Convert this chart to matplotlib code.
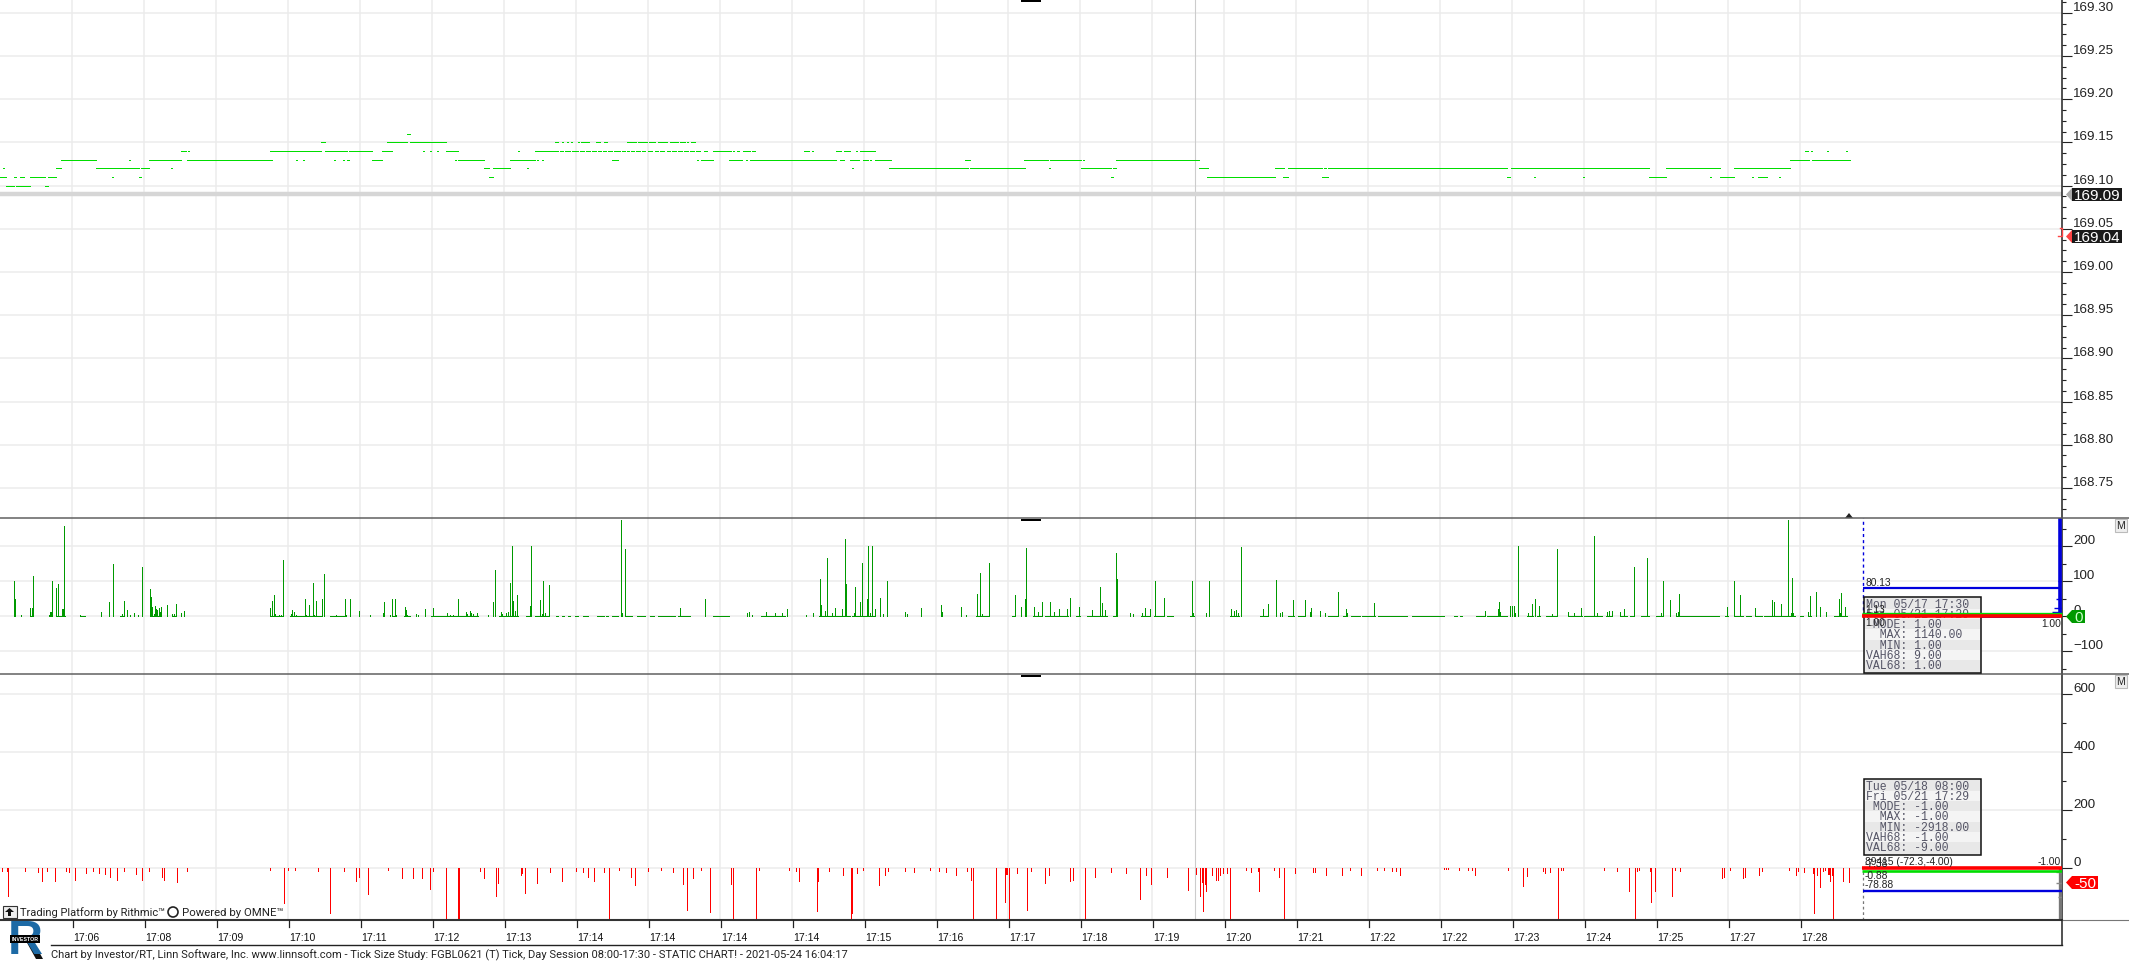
import matplotlib
matplotlib.use("Agg")
import matplotlib.pyplot as plt
from matplotlib.patches import Rectangle, Polygon, Circle

W, H = 2129, 962

# ---- data: x is bar position along the tick chart ----
tick_bars = [73 + 72 * k for k in range(25)]
tick_labels = ["17:06", "17:08", "17:09", "17:10", "17:11", "17:12", "17:13", "17:14", "17:14", "17:14",
               "17:14", "17:15", "17:16", "17:17", "17:18", "17:19", "17:20", "17:21", "17:22", "17:22",
               "17:23", "17:24", "17:25", "17:27", "17:28"]
price_ticks = [169.30, 169.25, 169.20, 169.15, 169.10, 169.05, 169.00, 168.95, 168.90, 168.85, 168.80, 168.75]

p16 = [(407, 410)]
p15 = [(321, 325), (387, 388.5), (390, 392), (392, 407), (410, 424), (424, 431), (431, 437), (437, 446),
       (555, 556), (557, 558), (562, 563), (567, 568), (571, 572), (578, 579), (581, 582), (583, 584), (585, 586),
       (587, 589), (596, 600), (604, 607), (627, 629), (630, 636), (638, 645), (646, 647), (649, 655), (658, 665),
       (666, 667), (670, 678), (680, 685), (687, 688), (691, 695)]
p14 = [(181, 186), (188, 189), (270, 271), (271.5, 296), (297, 304), (304, 321), (325, 334), (335, 343), (344, 347),
       (349, 372), (382, 387), (388, 390), (391, 392), (423, 424), (430, 431), (437, 438), (446, 455), (456, 458),
       (518, 519), (535, 537), (538, 542), (543, 555), (556, 558), (560, 563), (565, 567), (568, 570), (572, 574),
       (575, 578), (580, 584), (586, 590), (592, 596), (598, 601), (603, 606), (608, 612), (614, 620), (622, 625),
       (627, 629), (631, 634), (636, 640), (642, 645), (648, 652), (655, 658), (660, 664), (667, 670), (672, 676),
       (678, 682), (684, 688), (690, 694), (696, 700), (704, 707), (712.5, 729), (730, 731), (732.5, 733.5),
       (737, 739), (742.5, 746), (747, 750), (752, 755.4), (804, 806.3), (807, 809), (812, 813), (836, 841),
       (844, 850), (856, 857), (860, 874.5), (1805, 1808), (1811, 1812), (1827, 1828), (1846, 1847)]
p13 = [(61, 96), (129, 130), (149, 171.5), (172, 181), (187, 188), (189, 270), (271, 272), (296, 297), (303, 304),
       (334, 335), (343, 344), (347, 349), (372, 382), (455, 456), (458, 484), (510, 518), (519, 527), (528, 535),
       (537, 538), (542, 543), (612, 614), (615, 618), (697, 698), (701, 709), (710, 713), (729, 731), (732, 737),
       (738, 742), (745.5, 747), (750, 752.7), (753.6, 803.6), (804.5, 811.6), (813, 836), (840, 844), (850, 853),
       (854, 859.4), (863, 868), (869.6, 871), (875, 889), (890, 891), (965, 967), (968, 970), (1023.7, 1048),
       (1050, 1081), (1083, 1084), (1116, 1198.7), (1790, 1807), (1808, 1809), (1812, 1827), (1828, 1850)]
p12 = [(3, 4), (56, 61), (96, 112.5), (113, 129.5), (130, 139), (141, 149), (171, 172), (484, 489), (493, 510),
       (527, 528), (852, 853), (889, 890), (891, 965), (966, 968), (970, 1023), (1024, 1025), (1049, 1050), (1081, 1083),
       (1084, 1111), (1113, 1116), (1199, 1208), (1275, 1284), (1288, 1322), (1324, 1326), (1328, 1507), (1510.6, 1649),
       (1666, 1720), (1734, 1754), (1755, 1760), (1761, 1766), (1767, 1790)]
p11 = [(0, 3), (4, 6), (14, 16), (20, 21), (22, 24), (30, 45), (48, 56), (112, 113), (139, 141), (489, 493),
       (1111, 1113), (1207, 1208), (1209, 1275), (1283, 1284), (1285, 1288), (1322, 1324), (1325, 1328), (1507, 1510),
       (1534, 1535), (1583, 1584), (1649, 1666), (1710, 1711), (1720, 1734), (1752, 1753), (1758, 1762), (1763, 1767),
       (1779, 1780)]
p10 = [(6, 14), (16, 21), (22, 30), (45, 48)]
last_trade = 169.09
last_price = 169.04

vol_x = [3.6, 14.3, 15.2, 20.5, 22.3, 30.4, 32.1, 33, 48.7, 50.4, 51.3, 52.2, 56.3, 58, 62, 63.4, 64.3, 80.4, 82.6, 89.3,
         91.5, 94.6, 101.3, 107.6, 109.4, 113.4, 119.6, 122.3, 123.7, 127.2, 129.5, 133.9, 137.5, 141.5, 150.4, 151.3,
         152.2, 153.6, 154.5, 155.8, 157.1, 158.5, 159.8, 160.7, 167.4, 172.3, 174.1, 176.3, 181.2, 184.4, 188.4,
         270, 271.9, 273.7, 275, 278.6, 281.3, 282.6, 290.6, 292.4, 293.8, 296, 299, 304.5, 306.3, 309.4, 312.5, 313.8,
         315.6, 322.3, 323.7, 335.7, 344.6, 346, 350.4, 359.4, 370, 382.6, 383.5, 389.7, 392.4, 394.6, 396, 404.9, 405.8,
         407.1, 415.6, 418.3, 424.6, 432.6, 436.6, 447.3, 450.4, 453, 457.6, 462, 465.6, 467.4, 469.6, 471.4, 473.2, 476.6,
         487.5, 493.3, 494.6, 500.9, 502.2, 505.8, 508, 510.3, 511.6, 513, 514.7, 517.4, 525.9, 529.9, 531.3, 535.7, 540.2,
         541.5, 543.3, 544.6, 548.7, 620.5, 622.3, 625.4, 679.5,
         704.5, 747, 749, 752, 765.6, 775.4, 782, 786.6, 806, 812.5, 819.6, 821.4, 824.6, 827.2, 831.7, 835.3, 841.5, 844.6,
         845.5, 854, 855.4, 860.3, 861.6, 866.5, 868.3, 870, 872.3, 874.6, 880.4, 882.6, 886.6, 905.4, 906.7, 921.4, 940.6,
         942.4, 960.7, 965.6, 977.2, 979.5, 980.4, 982, 989.3, 1015.2, 1021.4, 1025.4, 1026.3, 1034, 1038, 1041.5, 1050.4,
         1054, 1059.4, 1067, 1070, 1078.6, 1091.5, 1100.4, 1102.2, 1105, 1115.6, 1116.5, 1130, 1132.6, 1142, 1145, 1150.4,
         1154.5, 1164.3, 1191.5, 1192.9, 1206.3, 1208.5, 1231.3, 1234.4, 1235.7, 1238.4, 1240.6, 1262.5, 1268.3, 1275.9,
         1280.3, 1281.7, 1293.3, 1305.4, 1309.8, 1311.2, 1319.6, 1325, 1338.4, 1346.4, 1347.3, 1373.7,
         1484.7, 1498.3, 1499.3, 1500.3, 1510.3, 1512.3, 1514.3, 1515.3, 1518.3, 1528.3, 1532.3, 1535.3, 1539.3, 1552.3,
         1557.3, 1568.3, 1574.3, 1581.3, 1594.3, 1597.3, 1607.3, 1609, 1611.7, 1620.3, 1624.3, 1634.3, 1647.3, 1661.3,
         1663.3, 1670.3, 1676.3, 1677.7, 1679.3, 1727.3, 1734.3, 1740.3, 1755.3, 1772.3, 1774.3, 1781.3, 1788.3, 1790.7,
         1792.3, 1793.3, 1808.3, 1810.3, 1816.3, 1820.3, 1826.3, 1839.3, 1840.3, 1841.3, 1845.3]
vol_y = [2, 100, 50, 4, 2, 24, 24, 115, 4, 11, 13, 100, 81, 92, 21, 21, 258, 4, 2, 2,
         2, 2, 12, 2, 41, 150, 2, 7, 44, 18, 4, 10, 4, 141, 78, 55,
         27, 7, 30, 21, 19, 24, 11, 27, 32, 7, 7, 35, 10, 15, 2,
         24, 44, 61, 7, 3, 4, 161, 7, 18, 12, 4, 2, 50, 4, 32, 95, 4,
         44, 50, 121, 4, 50, 4, 50, 15, 3, 10, 41, 3, 50, 50, 5, 27, 18,
         4, 6, 4, 21, 24, 2, 10, 5, 3, 50, 2, 11, 6, 15, 9, 6, 9,
         4, 41, 132, 12, 7, 10, 11, 95, 201, 44, 15, 61, 2, 30, 201, 2, 47,
         7, 100, 9, 89, 275, 10, 192, 24,
         50, 10, 12, 4, 12, 10, 10, 21, 4, 10, 107, 32, 15, 167, 10, 24, 21, 221,
         92, 10, 84, 41, 152, 50, 201, 10, 201, 21, 52, 7, 100, 12, 7, 24, 32,
         12, 27, 3, 64, 124, 81, 7, 152, 61, 27, 50, 195, 27, 12, 41, 41,
         12, 21, 21, 52, 27, 18, 84, 38, 18, 181, 107, 10, 7, 10, 24, 21,
         100, 52, 100, 10, 10, 100, 21, 15, 18, 10, 198, 21, 35, 104,
         10, 12, 47, 47, 12, 24, 15, 10, 70, 21, 10, 38,
         15, 21, 41, 12, 30, 30, 30, 10, 201, 10, 35, 50, 30, 7,
         192, 12, 10, 24, 229, 10, 12, 15, 15, 12, 21, 141, 167, 10,
         100, 47, 10, 12, 64, 27, 100, 61, 24, 47, 41, 35, 275, 10,
         110, 10, 12, 58, 70, 27, 12, 50, 10, 67, 27]
vol_floor = [(30, 33), (56, 65), (80, 85), (120, 123), (150, 161), (172, 176), (270, 283), (290, 321), (330, 344),
             (393, 396), (404, 410), (431, 478), (499, 518), (526, 531), (535, 549), (556, 558), (562, 564), (568, 570),
             (575, 578), (583, 588), (597, 604), (606, 608), (612, 618), (625, 632), (637, 645), (650, 654), (658, 675),
             (678, 690), (713, 729), (761, 785), (819, 850), (852, 874), (976, 989), (1012, 1015), (1033, 1041),
             (1045, 1068), (1076, 1080), (1087, 1107), (1113, 1116), (1141, 1149), (1154, 1164), (1167, 1173), (1190, 1194),
             (1230, 1239), (1260, 1268), (1288, 1294), (1298, 1305), (1328, 1337), (1343, 1347), (1351, 1360), (1362, 1375),
             (1378, 1400), (1401, 1407), (1412, 1444), (1454, 1457), (1460, 1462), (1476, 1485), (1487, 1507), (1527, 1533),
             (1537, 1540), (1546, 1557), (1568, 1582), (1584, 1602), (1606, 1612), (1620, 1627), (1630, 1634), (1641, 1649),
             (1656, 1663), (1676, 1719), (1725, 1728), (1734, 1743), (1746, 1751), (1755, 1762), (1764, 1788), (1789, 1795),
             (1800, 1803), (1808, 1811), (1834, 1847)]

neg_x = [2, 6.7, 7.6, 24.6, 38, 42.4, 47, 55, 65.6, 69, 74.6, 86, 93, 99, 105, 110, 117, 124, 136, 141.5, 148.7, 162, 164,
         177, 186.6, 269.6, 283.5, 288, 294.6, 318, 329.5, 343.7, 356, 358.5, 368, 388.4, 402, 413, 422, 429.5, 433, 446.4,
         458, 459, 480, 484, 495.5, 497.8, 521, 522, 524.6, 537, 550, 561.6, 576, 582.6, 588, 593.8, 604, 608.5, 619, 631,
         635, 648, 660.7, 672.8, 683, 686.6, 693,
         701, 710, 731, 732.6, 756, 759, 789, 796, 799, 817.4, 818, 828.6, 843, 851, 852, 857, 863, 878.6, 885, 888, 904.5,
         914, 930, 939, 946.4, 956, 967, 971.4, 972.8, 996, 1005.4, 1006, 1007, 1009, 1017, 1027, 1031, 1044.6, 1049, 1070,
         1073, 1084.8, 1094.6, 1110.7, 1126, 1139.7, 1146.4, 1151.3, 1166.5, 1188.4, 1196, 1200.4, 1201.8, 1203, 1204.5,
         1205.8, 1212, 1215.6, 1218.3, 1220, 1223, 1226.8, 1229.5, 1245.5, 1251.3, 1258, 1259.4, 1273.7, 1278.6, 1283.5,
         1294.7, 1312.5, 1315, 1326, 1342, 1349.5, 1360.7, 1377.2, 1384, 1392, 1396.4,
         1400.3, 1444, 1446, 1448, 1459.3, 1468.3, 1472.3, 1475.3, 1508.3, 1523.3, 1526.7, 1543.3, 1545.3, 1550.3, 1558.3,
         1560.7, 1563.3, 1604.3, 1617.3, 1629.3, 1635.3, 1637.3, 1639, 1650, 1650.7, 1655.3, 1672.3, 1675, 1680.3,
         1721.7, 1724, 1730, 1743.3, 1745.3, 1759.3, 1761.7, 1789.3, 1796.3, 1798.3, 1804.3, 1813.3, 1814.3, 1817.3, 1819.7,
         1823.3, 1825.3, 1828.3, 1829.3, 1830.3, 1832.3, 1833.3, 1842.7, 1849.3]
neg_y = [-9, -9, -95, -8, -12, -45, -8, -45, -10, -12, -40, -16, -10, -16, -20, -30, -40, -8, -20, -42, -10, -30, -40,
         -46, -8, -6, -120, -5, -6, -8, -155, -8, -45, -30, -88, -6, -35, -35, -35, -72, -8, -178,
         -178, -178, -8, -35, -95, -50, -25, -15, -85, -50, -12, -45, -10, -12, -30, -45, -12, -178, -5, -30,
         -58, -10, -5, -12, -55, -145, -35,
         -6, -150, -55, -178, -178, -6, -6, -8, -45, -148, -45, -10, -25, -178, -155, -15, -6, -58, -25, -8, -8,
         -12, -6, -10, -12, -25, -10, -42, -178, -178, -118, -20, -20, -178, -15, -145, -8, -52, -25, -45,
         -42, -178, -30, -12, -15, -105, -25, -55, -30, -75, -20, -95, -48, -147, -55,
         -80, -25, -40, -42, -25, -18, -18, -178, -5, -12, -8, -78, -6, -30, -178,
         -15, -12, -12, -25, -25, -6, -25, -5, -6, -8, -8,
         -25, -4, -4, -4, -6, -6, -6, -25, -6, -60, -28, -8, -15, -12, -178,
         -6, -6, -6, -8, -80, -178, -8, -5, -8, -118, -78, -95, -6, -10,
         -35, -30, -5, -35, -32, -22, -8, -5, -22, -10, -12, -18, -155, -25, -65,
         -8, -5, -20, -20, -45, -22, -178, -45, -48]

vol_mean = 80.13
vol_high = 7.0
neg_mean = -78.88
neg_hi = -1.0
neg_lo = -5.0
stat_a = ["Mon 05/17 17:30", "Fri 05/21 17:29", " MODE: 1.00", "  MAX: 1140.00", "  MIN: 1.00", "VAH68: 9.00", "VAL68: 1.00"]
stat_b = ["Tue 05/18 08:00", "Fri 05/21 17:29", " MODE: -1.00", "  MAX: -1.00", "  MIN: -2918.00", "VAH68: -1.00", "VAL68: -9.00"]
footer = ("Chart by Investor/RT, Linn Software, Inc. www.linnsoft.com - Tick Size Study: FGBL0621 (T) Tick, "
          "Day Session 08:00-17:30 - STATIC CHART! - 2021-05-24 16:04:17")

plt.rcParams['font.family'] = ['Liberation Sans', 'DejaVu Sans']
GREEN, VOLG, RED, BLUE = '#00dd00', '#009900', '#ff0000', '#0000dd'
GRID = '#ececec'
ONE = 0.72  # one device pixel, in points

fig = plt.figure(figsize=(W / 100, H / 100), dpi=100, facecolor='white')


def panel(y0, y1):
    return fig.add_axes([0, 1 - y1 / H, 2062 / W, (y1 - y0) / H])


a1 = panel(0, 518.7)
a2 = panel(518.7, 674.5)
a3 = panel(674.5, 921)
a1.set_ylim(168.7155, 169.3159)
a2.set_ylim(-163, 281)
a3.set_ylim(-178.6, 671)

for ax, major, minor in [(a1, price_ticks, [169.10 + 0.0125 * k for k in range(-30, 18)]),
                         (a2, [-100, 0, 100, 200], [-150, -50, 50, 150, 250]),
                         (a3, [0, 200, 400, 600], [100, 300, 500])]:
    ax.set_xlim(0, 2062)
    ax.set_xticks([t - 1 for t in tick_bars])
    ax.tick_params(axis='x', length=0, labelbottom=False)
    ax.yaxis.tick_right()
    ax.set_yticks(major)
    ax.set_yticks([m for m in minor if ax.get_ylim()[0] < m < ax.get_ylim()[1]], minor=True)
    ax.tick_params(axis='y', which='major', length=7.2, width=0.8, pad=1, labelsize=9.6, colors='#222222')
    ax.tick_params(axis='y', which='minor', length=3, width=0.8, colors='#222222')
    ax.grid(True, which='major', color=GRID, lw=1.1, zorder=0)
    ax.set_axisbelow(True)
    for s in ax.spines.values():
        s.set_visible(False)
    ax.spines['right'].set_visible(True)
    ax.spines['right'].set_color('#222222')
    ax.spines['right'].set_linewidth(1.1)
    ax.axvline(1194.6, color='#cccccc', lw=0.8, zorder=1)

a1.set_yticklabels(["%.2f" % t for t in price_ticks])
for ax in (a1, a2, a3):
    for lab in ax.get_yticklabels():
        lab.set_va('bottom')

# price panel
a1.axhline(last_trade, color='#d6d6d6', lw=3.2, zorder=1)
for lvl, segs in [(169.16, p16), (169.15, p15), (169.14, p14), (169.13, p13),
                  (169.12, p12), (169.11, p11), (169.10, p10)]:
    a1.hlines([lvl] * len(segs), [s[0] for s in segs], [s[1] for s in segs],
              color=GREEN, lw=ONE, antialiased=False, zorder=3)

# volume panel
a2.vlines(vol_x, 0, vol_y, color=VOLG, lw=ONE, antialiased=False, zorder=3)
a2.hlines([2] * len(vol_floor), [s[0] for s in vol_floor], [s[1] for s in vol_floor],
          color=VOLG, lw=ONE, antialiased=False, zorder=3)
a2.vlines([1863], 0, 281, color=BLUE, lw=1.0, linestyles=(0, (2.2, 2.2)), zorder=2)
a2.vlines([2060], 0, 281, color=BLUE, lw=2.6, zorder=3)
a2.hlines([vol_mean], 1863, 2060, color=BLUE, lw=1.6, zorder=3)
a2.hlines([-3], 1863, 2060, color=BLUE, lw=1.3, zorder=3)
a2.hlines([100, 50, 25, 12], [2058, 2056, 2054, 2052], 2062, color=BLUE, lw=1.0, zorder=3)
a2.barh([4], [10], left=[2052], height=10, color=BLUE, zorder=3)

# negative panel
a3.vlines(neg_x, 0, neg_y, color=RED, lw=ONE, antialiased=False, zorder=3)
a3.vlines([1863], -178, neg_mean, color='#777777', lw=0.9, linestyles=(0, (2.2, 2.2)), zorder=2)
a3.vlines([1863], neg_mean, 0, color='#777777', lw=0.9, linestyles=(0, (2.2, 2.2)), zorder=2)
a3.vlines([2060], -178, 0, color='#777777', lw=2.4, zorder=3)
a3.hlines([-13, -50, -100], [2056, 2056, 2058], 2062, color='#888888', lw=1.0, zorder=3)
a3.hlines([neg_hi], 1862, 2062, color=RED, lw=2.6, zorder=6)
a3.hlines([neg_lo - 4], 1862, 2062, color=GREEN, lw=1.9, zorder=5)
a3.hlines([neg_mean], 1863, 2062, color=BLUE, lw=1.7, zorder=5)

# overlay in pixels for chart furniture
ov = fig.add_axes([0, 0, 1, 1], zorder=20)
ov.set_xlim(0, W)
ov.set_ylim(H, 0)
ov.axis('off')
ov.patch.set_alpha(0)

# separators and time axis
ov.plot([0, W], [518.7, 518.7], color='#606060', lw=1.1)
ov.plot([0, W], [674.5, 674.5], color='#606060', lw=1.1)
ov.plot([0, 2062], [921, 921], color='#333333', lw=1.5)
ov.plot([2062, W], [921, 921], color='#777777', lw=0.8)
ov.plot([51, 2062], [945.5, 945.5], color='#222222', lw=1.0)
ov.plot([2062, 2062], [921, 945.5], color='#222222', lw=1.1)
for t, lab in zip(tick_bars, tick_labels):
    ov.plot([t, t], [921, 928], color='#222222', lw=0.9)
    ov.text(t, 938.5, lab, fontsize=7.6, ha='left', va='center', color='#111111')
ov.text(51, 955, footer, fontsize=8.03, family='Roboto', ha='left', va='center', color='#222222')

# panel handles
for y in [0.5, 520, 676]:
    ov.add_patch(Rectangle((1021, y), 20, 2.4, color='black', lw=0))
ov.add_patch(Polygon([(1845, 519), (1853, 519), (1849, 514)], color='#222222', lw=0))

# M buttons
for y in [520, 676]:
    ov.add_patch(Rectangle((2114.5, y), 12.5, 12.5, fc='#eeeeee', ec='#bbbbbb', lw=0.8))
    ov.text(2120.7, y + 6.4, "M", fontsize=7.5, ha='center', va='center', color='#222222')


# stat boxes
def stat_box(y0, y1, rows):
    ov.add_patch(Rectangle((1863.5, y0), 117, y1 - y0, fc='#e8e8e8', ec='#111111', lw=1.1, zorder=3))
    n = len(rows)
    rh = (y1 - y0 - 4) / n
    for i, r in enumerate(rows):
        yy = y0 + 2 + i * rh
        if i % 2:
            ov.add_patch(Rectangle((1864.5, yy), 115, rh, fc='#f4f4f4', lw=0, zorder=3.1))
        ov.text(1866.5, yy + rh / 2, r, fontsize=8.3,
                family='Liberation Mono', color='#555566', ha='left', va='center', zorder=4)


stat_box(597.5, 673.5, stat_a)
stat_box(779.5, 855.5, stat_b)
# the coloured study lines run over the first box
ov.plot([1862, 2062], [614.7, 614.7], color=GREEN, lw=2.4, zorder=6, solid_capstyle='butt')
ov.plot([1862, 2062], [617.4, 617.4], color=RED, lw=2.6, zorder=6, solid_capstyle='butt')

# small overlapping labels
ov.text(1865, 583.5, "80.13", fontsize=7.4, color='#222222', va='center', zorder=7)
ov.text(1865, 610.5, "1.13", fontsize=7.4, color='#222222', va='center', zorder=7)
ov.text(1865, 623.5, "1.00", fontsize=7.4, color='#222222', va='center', zorder=7)
ov.text(2061, 624.5, "1.00", fontsize=7.4, color='#222222', ha='right', va='center', zorder=7)
ov.text(1865, 862.5, "89415 (-72.3,-4.00)", fontsize=7.4, color='#222222', va='center', zorder=7)
ov.text(1865, 864.5, "-7.38", fontsize=7.4, color='#222222', va='center', zorder=7)
ov.text(2061, 862.5, "-1.00", fontsize=7.4, color='#222222', ha='right', va='center', zorder=7)
ov.text(1865, 876, "-0.88", fontsize=7.4, color='#222222', va='center', zorder=7)
ov.text(1865, 885.5, "-78.88", fontsize=7.4, color='#222222', va='center', zorder=7)


# right-hand value flags
def flag(x0, x1, y0, y1, arrow, box, text, tc='white', fs=11):
    ym = (y0 + y1) / 2
    ov.add_patch(Polygon([(x0 - 6, ym), (x0, y0), (x0, y1)], color=arrow, lw=0, zorder=8))
    ov.add_patch(Rectangle((x0, y0), x1 - x0, y1 - y0, color=box, lw=0, zorder=8))
    ov.text((x0 + x1) / 2, ym + 0.3, text, color=tc, fontsize=fs, ha='center', va='center', zorder=9)


flag(2072, 2122, 189, 202, '#aaaaaa', '#1a1a1a', "%.2f" % last_trade)
flag(2072, 2122, 231, 244, '#ff4444', '#1a1a1a', "%.2f" % last_price)
flag(2072, 2085, 611, 624, '#009900', '#009900', "0", tc='#ccffcc')
flag(2072, 2098, 877, 890, '#ff0000', '#ff0000', "-50")
ov.plot([2060, 2062, 2062, 2058], [229, 229, 237, 237], color='#ff4444', lw=1.0, zorder=7)

# vendor marks
ov.add_patch(Rectangle((2.5, 907), 14, 11.5, fc='#eeeeee', ec='#333333', lw=0.8))
ov.add_patch(Polygon([(9.5, 909), (14, 913), (11, 913), (11, 917), (8, 917), (8, 913), (5, 913)], color='#111111', lw=0))
ov.text(20, 913, "Trading Platform by Rithmic\u2122", fontsize=8.0, family='Roboto', va='center', color='#222222')
ov.add_patch(Circle((173, 913), 5, fc='white', ec='#222222', lw=1.2))
ov.text(182, 913, "Powered by OMNE\u2122", fontsize=8.2, family='Roboto', va='center', color='#222222')
ov.text(25, 942, "R", fontsize=35, fontweight='bold', color='#1d6aa5', ha='center', va='center')
ov.add_patch(Polygon([(26, 942), (33, 942), (43, 960), (36, 960)], color='#111111', lw=0))
ov.text(25, 940, "INVESTOR", fontsize=3.8, fontweight='bold', color='white', ha='center', va='center',
        bbox=dict(fc='black', ec='none', pad=0.8))

fig.savefig("out.png", dpi=100)
